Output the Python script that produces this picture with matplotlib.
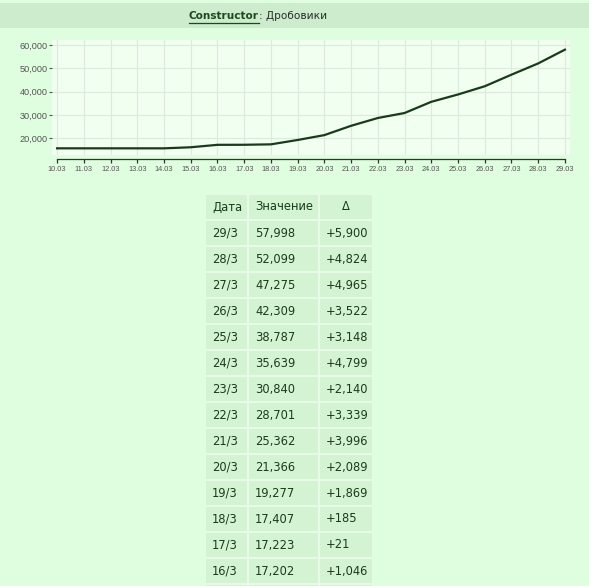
import matplotlib
matplotlib.use("Agg")
import matplotlib.pyplot as plt
from matplotlib.patches import Rectangle
from matplotlib.lines import Line2D

# ---- data ----
dates = ["10.03", "11.03", "12.03", "13.03", "14.03", "15.03", "16.03", "17.03", "18.03", "19.03",
         "20.03", "21.03", "22.03", "23.03", "24.03", "25.03", "26.03", "27.03", "28.03", "29.03"]
values = [15700, 15700, 15700, 15700, 15700, 16156, 17202, 17223, 17407, 19277,
          21366, 25362, 28701, 30840, 35639, 38787, 42309, 47275, 52099, 57998]
y_ticks = [20000, 30000, 40000, 50000, 60000]

table_header = ["Дата", "Значение", "Δ"]
table_dates = ["29/3", "28/3", "27/3", "26/3", "25/3", "24/3", "23/3", "22/3", "21/3",
               "20/3", "19/3", "18/3", "17/3", "16/3", "15/3"]
table_values = ["57,998", "52,099", "47,275", "42,309", "38,787", "35,639", "30,840", "28,701",
                "25,362", "21,366", "19,277", "17,407", "17,223", "17,202", "16,156"]
table_deltas = ["+5,900", "+4,824", "+4,965", "+3,522", "+3,148", "+4,799", "+2,140", "+3,339",
                "+3,996", "+2,089", "+1,869", "+185", "+21", "+1,046", "+456"]

W, H = 589, 586
BG = "#dffddf"
BAR = "#cdeccd"
PLOT_BG = "#f0fff0"
LINE = "#1b3a1b"
TXT = "#1c3a1c"
CELL = "#d3f3d3"

fig = plt.figure(figsize=(W / 100, H / 100), dpi=100)
fig.patch.set_facecolor(BG)

def fx(px):
    return px / W

def fy(py):
    return 1 - py / H

# ---- title bar ----
fig.patches.append(Rectangle((0, fy(28)), 1, (28 - 3) / H, transform=fig.transFigure,
                             facecolor=BAR, edgecolor="none", zorder=0))
t1 = fig.text(fx(189), fy(16), "Constructor", fontsize=7.6, fontweight="bold",
              color="#1d4a1d", family="DejaVu Sans", va="center", ha="left")
renderer = fig.canvas.get_renderer()
bb = t1.get_window_extent(renderer)
fig.text(bb.x1 / W, fy(16), ": Дробовики", fontsize=7.6, color="#2a2a2a",
         family="DejaVu Sans", va="center", ha="left")
fig.add_artist(Line2D([bb.x0 / W, bb.x1 / W], [fy(22.5), fy(22.5)], transform=fig.transFigure,
                      color="#1d4a1d", lw=0.9))

# ---- line chart ----
left, right, top, bottom = 52, 570, 40, 155
ax = fig.add_axes([fx(left), fy(bottom), (right - left) / W, (bottom - top) / H])
ax.set_facecolor(PLOT_BG)
for s in ["top", "right", "left"]:
    ax.spines[s].set_visible(False)
ax.spines["bottom"].set_position(("outward", 3))
x = list(range(len(dates)))
ax.spines["bottom"].set_bounds(0, len(dates) - 1)
ax.spines["bottom"].set_color("#333333")
ax.spines["bottom"].set_linewidth(0.9)
ax.plot(x, values, color=LINE, lw=1.6, zorder=3)
ax.set_xlim(-0.19, len(dates) - 1 + 0.19)
ax.set_ylim(12840, 62140)
ax.set_xticks(x)
ax.set_xticklabels(dates, family="Liberation Sans", fontsize=5.3, color="#555555")
ax.set_yticks(y_ticks)
ax.set_yticklabels([f"{v:,}" for v in y_ticks], family="Liberation Sans", fontsize=6.6,
                   color="#555555")
ax.grid(True, color="#dde9dd", lw=0.8, zorder=0)
ax.tick_params(axis="x", length=3, width=0.9, color="#333333", pad=2)
ax.tick_params(axis="y", length=2, width=0.8, color="#555555", pad=1)

# ---- table ----
col_edges = [205, 248, 319, 373]
row_h = 26
table_top = 194
gap = 1

def cell(x0, x1, y0, y1):
    fig.patches.append(Rectangle((fx(x0 + gap), fy(y1 - gap)), (x1 - x0 - 2 * gap) / W,
                                 (y1 - y0 - 2 * gap) / H, transform=fig.transFigure,
                                 facecolor=CELL, edgecolor="none", zorder=0))

fig.patches.append(Rectangle((fx(col_edges[0]), fy(H + 20)), (col_edges[-1] - col_edges[0]) / W,
                             (H + 20 - table_top) / H, transform=fig.transFigure,
                             facecolor="#e6fbe6", edgecolor="none", zorder=0))

rows = [table_header] + [[d, v, dl] for d, v, dl in zip(table_dates, table_values, table_deltas)]
for r, row in enumerate(rows):
    y0 = table_top + r * row_h
    y1 = y0 + row_h
    for c in range(3):
        cell(col_edges[c], col_edges[c + 1], y0, y1)
        if (y0 + y1) / 2 > H:
            continue  # row lies below the visible area
        if r == 0 and c == 2:
            fig.text(fx((col_edges[2] + col_edges[3]) / 2), fy((y0 + y1) / 2), row[c],
                     fontsize=8.3, color=TXT, family="DejaVu Sans", ha="center", va="center")
        else:
            fig.text(fx(col_edges[c] + 7), fy((y0 + y1) / 2), row[c], fontsize=8.3,
                     color=TXT, family="DejaVu Sans", ha="left", va="center")

fig.savefig("out.png", dpi=100, facecolor=fig.get_facecolor())
